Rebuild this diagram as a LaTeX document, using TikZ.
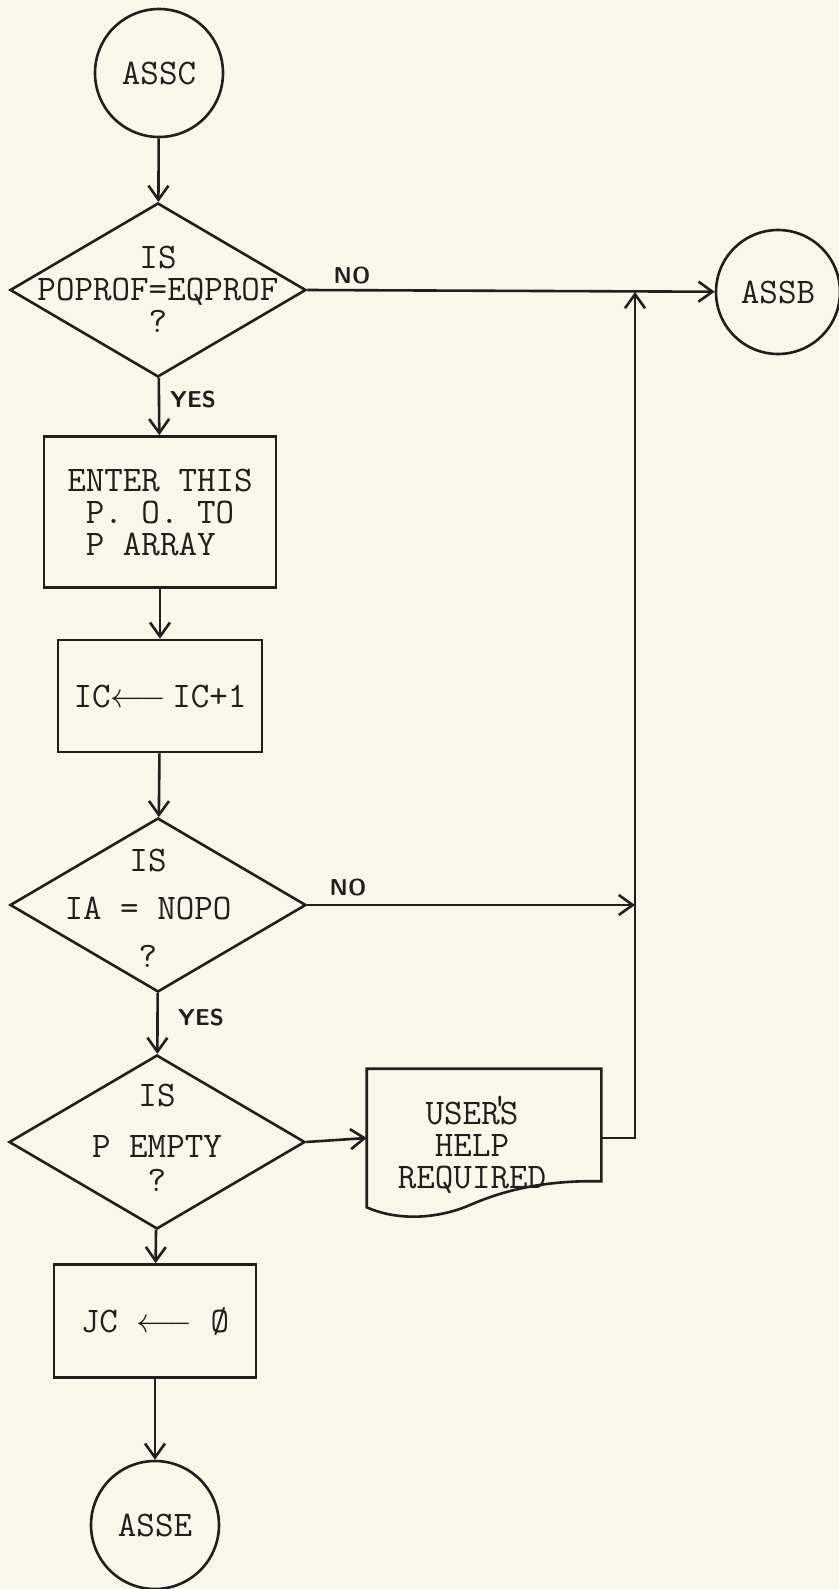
\documentclass[tikz,border=0pt]{standalone}
\usepackage{fontspec}
\usetikzlibrary{shapes.geometric,arrows.meta}
\definecolor{paper}{RGB}{248,247,233}
\definecolor{ink}{RGB}{34,30,28}
\newcommand{\tyfont}{\ttfamily\fontsize{18}{16}\selectfont}
\tikzset{
  term/.style={
    shape = circle,
    draw,
    inner sep = 0pt,
    minimum size = 64pt,
    font = \tyfont
  },
  decision/.style={
    shape = diamond,
    draw,
    inner sep = 0pt,
    minimum width = 148pt,
    minimum height = 87pt
  },
  process/.style={
    draw,
    inner sep = 0pt,
    align = left,
    font = \tyfont
  },
  typed/.style={
    inner sep = 0pt,
    align = center,
    font = \tyfont
  },
  hand/.style={
    inner sep = 0pt,
    font = \sffamily\bfseries\fontsize{11.5}{12}\selectfont
  },
  flow/.style={
    -{Straight Barb[length=7pt,width=10pt,line width=1.3pt]}
  }
}
\begin{document}
\begin{tikzpicture}[x=0.5pt, y=-0.5pt, line width=1.3pt, color=ink]
  \fill[paper] (0,0) rectangle (839,1589);
  \useasboundingbox (0,0) rectangle (839,1589);
  % main column
  \node[term] (assc) at (159,73) {ASSC};
  \node[decision] (d1) at (158,290) {};
  \node[typed] (d1txt) at (158,289) {IS\\POPROF=EQPROF\\?};
  \node[process, minimum width=116pt, minimum height=75.5pt] (enter) at (160,512) {ENTER THIS\\\ P. O. TO\\\ P ARRAY};
  \node[process, minimum width=102pt, minimum height=56pt] (inc) at (160,696) {IC$\longleftarrow$\,IC+1};
  \node[decision] (d2) at (158,905) {};
  \node[typed] (d2txt) at (148,908) {IS\\[8pt]IA = NOPO\\[8pt]?};
  \node[decision] (d3) at (157,1142) {};
  \node[typed] (d3txt) at (157,1138) {IS\\[9.5pt]P EMPTY\\[1pt]?};
  \node[process, minimum width=101pt, minimum height=56.5pt] (jc) at (155,1321) {JC $\longleftarrow$ Ø};
  \node[term] (asse) at (155,1525) {ASSE};
  % right side
  \node[term, minimum size=62pt] (assb) at (778,292) {ASSB};
  \node[minimum width=116pt, minimum height=68pt, inner sep=0pt] (help) at (484,1138) {};
  \node[typed] (helptxt) at (472,1145) {USER\makebox[0pt]{\raisebox{3pt}{'}}S\\HELP\\REQUIRED};
  \coordinate (j1) at (635,292);
  \coordinate (j2) at (635,905);
  % answers
  \node[hand] (no1) at (352,276) {NO};
  \node[hand] (yes1) at (193,400) {YES};
  \node[hand] (no2) at (348,888) {NO};
  \node[hand] (yes2) at (201,1018) {YES};
  % torn paper outline
  \draw ([yshift=13pt]help.south east) -- (help.north east) -- (help.north west) -- (help.south west)
    .. controls (400,1222) and (440,1218) .. (470,1205)
    .. controls (500,1192) and (540,1180) .. cycle;
  % flow lines
  \foreach \a/\b in {assc/d1, d1/enter, enter/inc, inc/d2, d2/d3, d3/jc, jc/asse}
    \draw[flow] (\a) -- (\b);
  \draw[flow] (d1.east) -- (assb);
  \draw[flow] (d2.east) -- (j2);
  \draw[flow] (d3.east) -- (help.west);
  \draw[flow] (help.east) -| (j1);
\end{tikzpicture}
\end{document}
